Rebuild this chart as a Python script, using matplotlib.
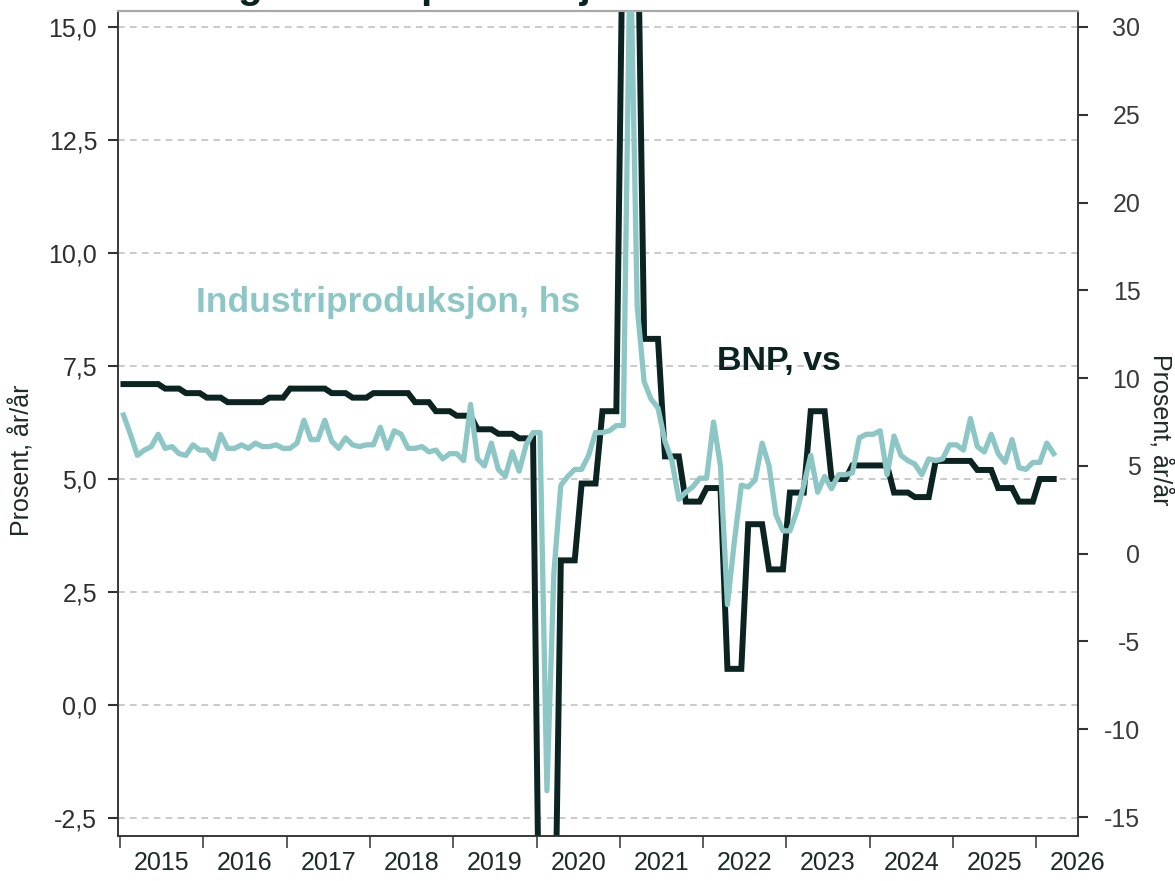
import numpy as np
import matplotlib
matplotlib.use("Agg")
import matplotlib.pyplot as plt
from matplotlib.ticker import NullFormatter

plt.rcParams["font.family"] = ["Liberation Sans", "DejaVu Sans"]

DARK = "#0c2421"
TEAL = "#8cc7c6"

# BNP, quarterly y/y (2015 Q1 - 2026 Q1), left axis
bnp_q = [7.1, 7.1, 7.0, 6.9,
         6.8, 6.7, 6.7, 6.8,
         7.0, 7.0, 6.9, 6.8,
         6.9, 6.9, 6.7, 6.5,
         6.4, 6.1, 6.0, 5.9,
         -6.8, 3.2, 4.9, 6.5,
         18.3, 8.1, 5.5, 4.5,
         4.8, 0.8, 4.0, 3.0,
         4.7, 6.5, 5.0, 5.3,
         5.3, 4.7, 4.6, 5.4,
         5.4, 5.2, 4.8, 4.5,
         5.0]

# Industriproduksjon, monthly y/y (Jan 2015 - Mar 2026), right axis
ip_m = [7.9, 6.8, 5.6, 5.9, 6.1, 6.8, 6.0, 6.1, 5.7, 5.6, 6.2, 5.9,
        5.9, 5.4, 6.8, 6.0, 6.0, 6.2, 6.0, 6.3, 6.1, 6.1, 6.2, 6.0,
        6.0, 6.3, 7.6, 6.5, 6.5, 7.6, 6.4, 6.0, 6.6, 6.2, 6.1, 6.2,
        6.2, 7.2, 6.0, 7.0, 6.8, 6.0, 6.0, 6.1, 5.8, 5.9, 5.4, 5.7,
        5.7, 5.3, 8.5, 5.4, 5.0, 6.3, 4.8, 4.4, 5.8, 4.7, 6.2, 6.9,
        6.9, -13.5, -1.1, 3.9, 4.4, 4.8, 4.8, 5.6, 6.9, 6.9, 7.0, 7.3,
        7.3, 35.1, 14.1, 9.8, 8.8, 8.3, 6.4, 5.3, 3.1, 3.5, 3.8, 4.3,
        4.3, 7.5, 5.0, -2.9, 0.7, 3.9, 3.8, 4.2, 6.3, 5.0, 2.2, 1.3,
        1.3, 2.4, 3.9, 5.6, 3.5, 4.4, 3.7, 4.5, 4.5, 4.6, 6.6, 6.8,
        6.8, 7.0, 4.5, 6.7, 5.6, 5.3, 5.1, 4.5, 5.4, 5.3, 5.4, 6.2,
        6.2, 5.9, 7.7, 6.1, 5.8, 6.8, 5.7, 5.2, 6.5, 4.9, 4.8, 5.2,
        5.2, 6.3, 5.7]

years = list(range(2015, 2027))
year_labels = [str(y) for y in years]
left_ticks = [-2.5, 0.0, 2.5, 5.0, 7.5, 10.0, 12.5, 15.0]
right_ticks = [-15, -10, -5, 0, 5, 10, 15, 20, 25, 30]

# monthly x positions (mid-month, decimal years); BNP held for each month of quarter
t = 2015 + (np.arange(len(ip_m)) + 0.5) / 12
bnp_m = np.repeat(bnp_q, 3)

fig = plt.figure(figsize=(11.75, 8.81), dpi=100)
ax = fig.add_axes([118 / 1175, 45 / 881, 960 / 1175, 825 / 881])
ax2 = ax.twinx()

ax.plot(t, bnp_m, color=DARK, lw=4.3, solid_joinstyle="miter", zorder=3)
ax2.plot(t, ip_m, color=TEAL, lw=3.8, solid_joinstyle="round", zorder=3)

ax.set_xlim(2014.976, 2026.487)
ax.set_ylim(-2.898, 15.354)
ax2.set_ylim(-16.08, 30.91)

# grid on left axis
ax.set_yticks(left_ticks)
ax.set_yticklabels([f"{v:.1f}".replace(".", ",") for v in left_ticks])
ax.yaxis.grid(True, color="#bcbcbc", linestyle=(0, (4.4, 3.4)), linewidth=1.1)
ax.set_axisbelow(True)

ax2.set_yticks(right_ticks)
ax2.set_yticklabels([str(v) for v in right_ticks])

# years: ticks at year start, labels mid-year
ax.set_xticks(years)
ax.xaxis.set_major_formatter(NullFormatter())
ax.set_xticks([y + 0.5 for y in years], minor=True)
ax.set_xticklabels(year_labels, minor=True)
ax.tick_params(axis="x", which="major", length=8.6, width=1.1, color="#333333")
ax.tick_params(axis="x", which="minor", length=0, pad=11, labelsize=18, labelcolor="#1c2a28")

ax.tick_params(axis="y", length=7, width=1.5, color="#333333", pad=8,
               labelsize=18, labelcolor="#2e2e2e")
ax2.tick_params(axis="y", length=7, width=1.5, color="#333333", pad=38,
                labelsize=18, labelcolor="#3a3a3a")
for lab in ax2.get_yticklabels():
    lab.set_horizontalalignment("right")

for a in (ax, ax2):
    for side in ("left", "right", "bottom"):
        a.spines[side].set_color("#333333")
        a.spines[side].set_linewidth(1.1)
    a.spines["top"].set_color("#a8a8a8")
    a.spines["top"].set_linewidth(1.5)

ax.set_ylabel("Prosent, år/år", fontsize=18, color="#1c2a28", va="center", ha="center")
ax.yaxis.set_label_coords(-0.1, 0.456)
ax2.set_ylabel("Prosent, år/år", fontsize=18, color="#1c2a28", rotation=270,
               va="center", ha="center")
ax2.yaxis.set_label_coords(1.085, 0.492)

ax2.text(0.081, 0.647, "Industriproduksjon, hs", transform=ax.transAxes,
         fontsize=25.5, fontweight="bold", color=TEAL, va="center", ha="left")
ax2.text(0.624, 0.575, "BNP, vs", transform=ax.transAxes,
         fontsize=24.5, fontweight="bold", color=DARK, va="center", ha="left")

# title sits above the canvas; only descenders show
fig.text(118 / 1175, 1 + 2.4 / 881, "BNP og industriproduksjon", fontsize=29,
         fontweight="bold", color=DARK, va="baseline", ha="left")

fig.savefig("out.png", dpi=100)
